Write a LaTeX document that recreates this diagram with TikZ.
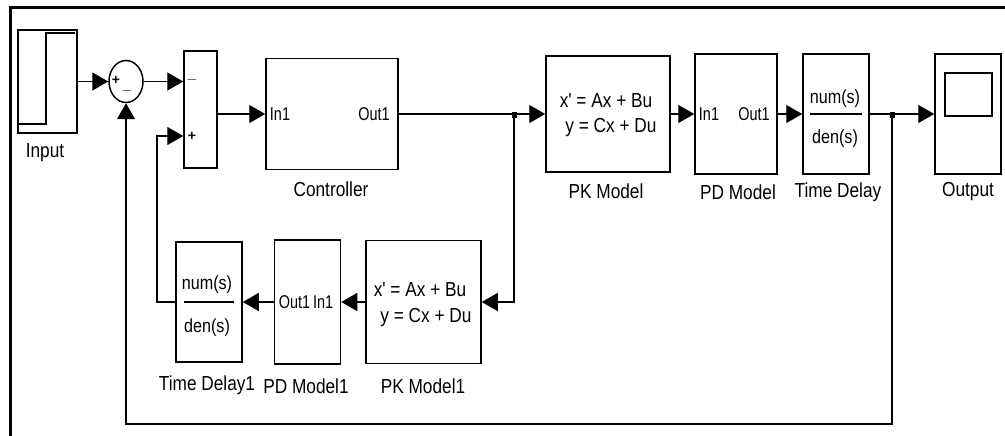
\documentclass[tikz,border=0pt]{standalone}
\usepackage{fontspec}
\setmainfont{Liberation Sans}
\newfontfamily\lblfont{Liberation Sans}[FakeStretch=0.85]
\newfontfamily\portfont{Liberation Sans}[FakeStretch=0.78]
\usetikzlibrary{arrows.meta,shapes.geometric}
\tikzset{
  blk/.style={draw, line width=1.5pt, inner sep=0pt, fill=white},
  sig/.style={line width=1.2pt, -{Triangle[length=16pt,width=18pt]}},
  wire/.style={line width=1.2pt},
  lbl/.style={inner sep=0pt, font=\lblfont\fontsize{20.3}{20}\selectfont},
  frac/.style={inner sep=0pt, font=\lblfont\fontsize{19}{19}\selectfont},
  port/.style={inner sep=0pt, font=\portfont\fontsize{18.5}{18}\selectfont},
  sgn/.style={inner sep=0pt, font=\bfseries\fontsize{14}{14}\selectfont},
  frame/.style={line width=3pt},
}
\begin{document}
\begin{tikzpicture}[x=1pt,y=-1pt]
\useasboundingbox (0,0) rectangle (1005,436);
% frame
\draw[frame] (1006,7.5) -- (10,7.5) -- (10,437);

% upper row blocks
\node[blk, minimum width=59pt, minimum height=103pt] (inp) at (47.5,81.5) {};
\node[blk, ellipse, minimum width=34pt, minimum height=42pt] (sum) at (126,81.5) {};
\node[blk, minimum width=33pt, minimum height=117pt] (sum2) at (200.5,109.5) {};
\node[blk, minimum width=132pt, minimum height=111pt] (ctrl) at (332,114) {};
\node[blk, minimum width=124pt, minimum height=116pt] (pk) at (608,114) {};
\node[blk, minimum width=82pt, minimum height=120pt] (pd) at (736,114) {};
\node[blk, minimum width=66pt, minimum height=120pt] (td) at (836,114) {};
\node[blk, minimum width=66pt, minimum height=120pt] (out) at (968,114) {};

% lower row blocks
\node[blk, minimum width=115pt, minimum height=123pt] (pk1) at (423.5,302) {};
\node[blk, minimum width=66pt, minimum height=124pt] (pd1) at (307.5,302) {};
\node[blk, minimum width=66pt, minimum height=120pt] (td1) at (209,302) {};

% block contents
\draw[wire] (18,124) -- (46,124) -- (46,33) -- (75,33);
\node[sgn] (sp1) at (116,80) {+};
\node[sgn] (sm1) at (127,91) {$-$};
\node[sgn] (sm2) at (192,80) {$-$};
\node[sgn] (sp2) at (192,136) {+};
\node[port] (cin) at (280,114) {In1};
\node[port] (cout) at (374,114) {Out1};
\node[lbl] (pkx) at (606,101) {x' = Ax + Bu};
\node[lbl] (pky) at (611,128) {y = Cx + Du};
\node[port] (pdin) at (709,114) {In1};
\node[port] (pdout) at (754,114) {Out1};
\node[frac] (tdn) at (835,99) {num(s)};
\draw[wire] (810,114) -- (862,114);
\node[frac] (tdd) at (835,139) {den(s)};
\draw[line width=1.5pt] (945,73) rectangle (992,116);

\node[lbl] (pk1x) at (420,290) {x' = Ax + Bu};
\node[lbl] (pk1y) at (426,318) {y = Cx + Du};
\node[port] (pd1t) at (306,302) {Out1\,In1};
\node[frac] (td1n) at (207,285) {num(s)};
\draw[wire] (184,302) -- (234,302);
\node[frac] (td1d) at (207,328) {den(s)};

% block names
\node[lbl] (linp) at (45,153) {Input};
\node[lbl] (lctrl) at (331,189) {Controller};
\node[lbl] (lpk) at (606,191) {PK Model};
\node[lbl] (lpd) at (738,192) {PD Model};
\node[lbl] (ltd) at (838,192) {Time Delay};
\node[lbl] (lout) at (968,192) {Output};
\node[lbl] (ltd1) at (207,385) {Time Delay1};
\node[lbl] (lpd1) at (306,386) {PD Model1};
\node[lbl] (lpk1) at (423,386) {PK Model1};

% connection points
\coordinate (s2in1) at (sum2.west |- sum.east);
\coordinate (s2in2) at ([yshift=-26.5pt]sum2.west);
\coordinate (br1) at (514,114);
\coordinate (br2) at (892,114);
\coordinate (fbc) at (892,424);
\coordinate (fb1) at (157,302);

% connectors
\draw[sig] (inp.east |- sum.west) -- (sum.west);
\draw[sig] (sum.east) -- (s2in1);
\draw[sig] (sum2.east |- ctrl.west) -- (ctrl.west);
\draw[sig] (ctrl.east) -- (pk.west);
\draw[sig] (pk.east) -- (pd.west);
\draw[sig] (pd.east) -- (td.west);
\draw[sig] (td.east) -- (out.west);
\draw[sig] (br1) |- (pk1.east);
\draw[sig] (pk1.west) -- (pd1.east);
\draw[sig] (pd1.west) -- (td1.east);
\draw[sig] (td1.west) -- (fb1) |- (s2in2);
\draw[sig] (br2) -- (fbc) -| (sum.south);
\fill (br1) ++(-2.5,-2) rectangle ++(5,6);
\fill (br2) ++(-2.5,-2) rectangle ++(5,6);
\end{tikzpicture}
\end{document}
